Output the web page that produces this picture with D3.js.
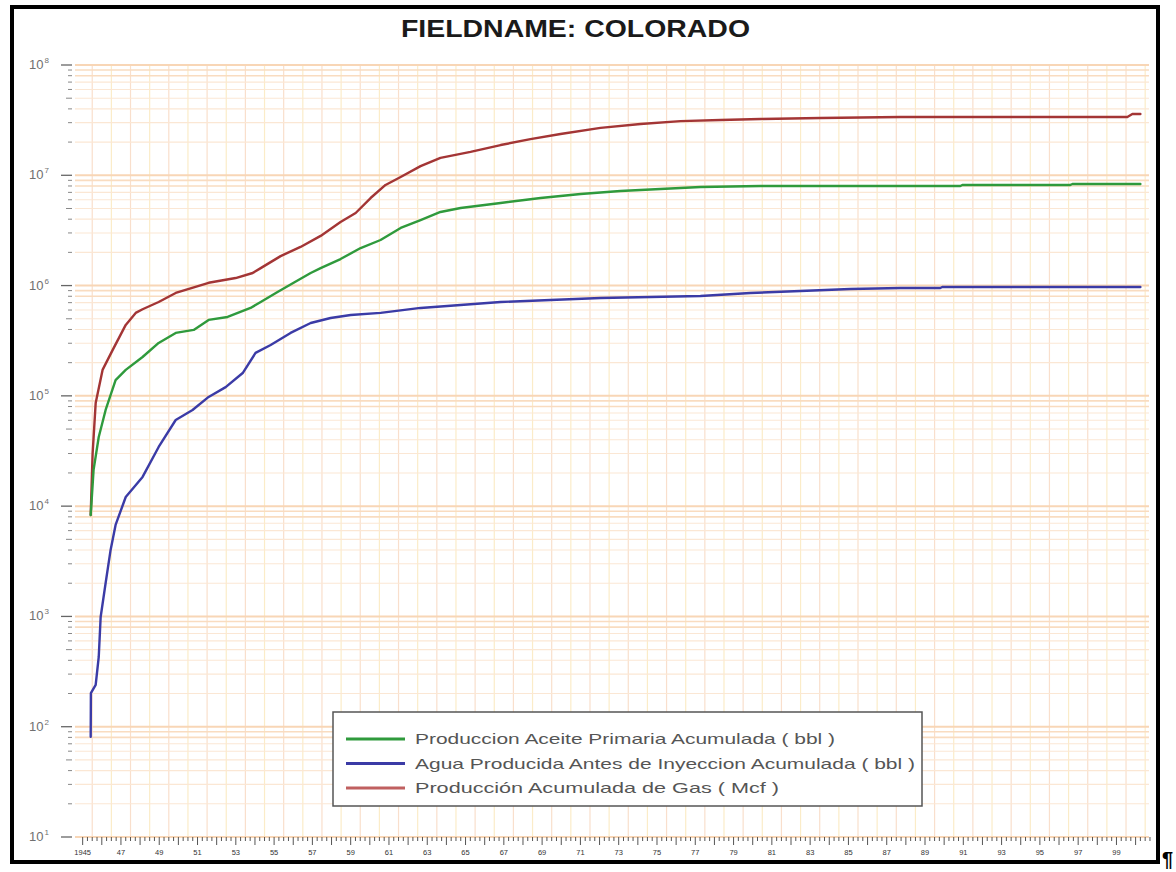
<!DOCTYPE html>
<html>
<head>
<meta charset="utf-8">
<script src="https://cdn.jsdelivr.net/npm/d3@7"></script>
<style>
  html, body { margin: 0; padding: 0; background: #fff; }
  svg { display: block; font-family: "Liberation Sans", Arial, sans-serif; }
</style>
</head>
<body>
<svg id="chart" width="1176" height="872"></svg>
<script>
// ---------------- DATA ----------------
const chartTitle = "FIELDNAME: COLORADO";
const seriesNames = [
  "Produccion Aceite Primaria Acumulada ( bbl )",
  "Agua Producida Antes de Inyeccion Acumulada ( bbl )",
  "Producción Acumulada de Gas ( Mcf )"
];
const oilYears = [1945.42,1945.57,1945.84,1946.20,1946.72,1947.25,1948.13,1948.97,1949.86,1950.80,1951.58,1952.57,1953.77,1954.30,1955.18,1956.02,1956.91,1957.43,1958.47,1959.52,1960.56,1961.61,1962.65,1963.69,1964.74,1966.83,1968.92,1971.01,1973.09,1975.18,1977.27,1980.41,1990.85,1990.95,1996.59,1996.70,2000.25];
const oilValues = [8.3e3,2.13e4,4.24e4,7.45e4,1.39e5,1.72e5,2.25e5,3.02e5,3.72e5,3.96e5,4.88e5,5.19e5,6.27e5,7.10e5,8.74e5,1.06e6,1.30e6,1.44e6,1.74e6,2.19e6,2.59e6,3.33e6,3.93e6,4.65e6,5.05e6,5.61e6,6.22e6,6.77e6,7.21e6,7.51e6,7.83e6,8.0e6,8.0e6,8.17e6,8.17e6,8.34e6,8.34e6];
const waterYears = [1945.42,1945.43,1945.68,1945.84,1945.94,1946.20,1946.46,1946.72,1947.25,1948.13,1948.97,1949.86,1950.74,1951.58,1952.47,1953.36,1954.03,1954.82,1955.86,1956.91,1957.95,1959.00,1960.56,1962.65,1964.74,1966.83,1969.44,1972.05,1974.66,1977.27,1979.88,1982.49,1985.10,1987.72,1989.80,1989.90,2000.25];
const waterValues = [81,202,239,429,989,2010,4010,6760,1.21e4,1.84e4,3.44e4,6.04e4,7.45e4,9.78e4,1.20e5,1.61e5,2.45e5,2.89e5,3.72e5,4.58e5,5.08e5,5.41e5,5.65e5,6.27e5,6.67e5,7.10e5,7.40e5,7.72e5,7.88e5,8.05e5,8.57e5,8.93e5,9.31e5,9.51e5,9.51e5,9.71e5,9.71e5];
const gasYears = [1945.42,1945.52,1945.68,1946.04,1946.57,1947.25,1947.77,1948.13,1948.97,1949.86,1951.58,1952.99,1953.88,1954.30,1955.34,1956.38,1957.43,1958.47,1959.26,1960.04,1960.82,1961.61,1962.65,1963.69,1965.26,1966.83,1968.39,1969.96,1972.05,1974.14,1976.23,1978.32,1980.41,1983.54,1987.72,1992.94,1999.57,1999.83,2000.25];
const gasValues = [8.3e3,3.0e4,8.6e4,1.72e5,2.61e5,4.4e5,5.65e5,6.1e5,7.1e5,8.57e5,1.06e6,1.17e6,1.30e6,1.44e6,1.85e6,2.24e6,2.82e6,3.77e6,4.55e6,6.22e6,8.17e6,9.66e6,1.21e7,1.44e7,1.63e7,1.88e7,2.13e7,2.37e7,2.69e7,2.92e7,3.10e7,3.17e7,3.24e7,3.31e7,3.38e7,3.38e7,3.38e7,3.60e7,3.60e7];
const xTickYears = [1945,1947,1949,1951,1953,1955,1957,1959,1961,1963,1965,1967,1969,1971,1973,1975,1977,1979,1981,1983,1985,1987,1989,1991,1993,1995,1997,1999];
const xTickLabels = ["1945","47","49","51","53","55","57","59","61","63","65","67","69","71","73","75","77","79","81","83","85","87","89","91","93","95","97","99"];
const yDecadeExponents = [1,2,3,4,5,6,7,8];

// ---------------- LAYOUT ----------------
const svg = d3.select("#chart");
const plot = { left: 75, right: 1149, top: 65, bottom: 837 };
const x = d3.scaleLinear().domain([1944.6, 2000.7]).range([plot.left, plot.right]);
const y = d3.scaleLog().domain([10, 1e8]).range([plot.bottom, plot.top]);

// outer frame
svg.append("rect").attr("x", 12).attr("y", 7).attr("width", 1146).attr("height", 855)
  .attr("fill", "#fff").attr("stroke", "#000").attr("stroke-width", 4);

// title
svg.append("text").attr("x", 575.5).attr("y", 37).attr("text-anchor", "middle")
  .attr("font-size", 24).attr("font-weight", "bold").attr("fill", "#1a1a1a")
  .attr("textLength", 349).attr("lengthAdjust", "spacingAndGlyphs")
  .text(chartTitle);

// ---------------- GRID ----------------
const grid = svg.append("g");
const yearLines = d3.range(1945, 2001).map(v => v + 0.5);
grid.selectAll("line.v").data(yearLines).join("line")
  .attr("x1", d => x(d)).attr("x2", d => x(d))
  .attr("y1", plot.top).attr("y2", plot.bottom)
  .attr("stroke", (d, i) => i % 2 ? "#fbecc8" : "#f9dfcc")
  .attr("stroke-width", 1.2);
const mantissa = d => Math.round(d / Math.pow(10, Math.floor(Math.log10(d) + 1e-9)));
const minorVals = [];
for (let e = 1; e < 8; e++) for (let m = 2; m <= 9; m++) minorVals.push(m * Math.pow(10, e));
grid.selectAll("line.h").data(minorVals).join("line")
  .attr("x1", plot.left).attr("x2", plot.right)
  .attr("y1", d => y(d)).attr("y2", d => y(d))
  .attr("stroke", d => mantissa(d) >= 8 ? "#f9dcc0" : "#fbe7d4")
  .attr("stroke-width", d => mantissa(d) >= 8 ? 1.6 : 1.1);
const decVals = yDecadeExponents.map(e => Math.pow(10, e));
grid.selectAll("line.d").data(decVals).join("line")
  .attr("x1", plot.left).attr("x2", plot.right)
  .attr("y1", d => y(d)).attr("y2", d => y(d))
  .attr("stroke", "#f8d6b6").attr("stroke-width", 2);

// ---------------- Y AXIS ----------------
const yAxisG = svg.append("g");
yAxisG.selectAll("line.maj").data(decVals).join("line")
  .attr("x1", 61).attr("x2", 72).attr("y1", d => y(d)).attr("y2", d => y(d))
  .attr("stroke", "#666").attr("stroke-width", 1.3);
yAxisG.selectAll("line.min").data(minorVals).join("line")
  .attr("x1", d => mantissa(d) === 5 ? 66 : 68)
  .attr("x2", 72).attr("y1", d => y(d)).attr("y2", d => y(d))
  .attr("stroke", "#888").attr("stroke-width", 1);
const yLab = yAxisG.selectAll("text.yl").data(yDecadeExponents).join("text")
  .attr("x", 49).attr("y", e => y(Math.pow(10, e)) + 4)
  .attr("text-anchor", "end").attr("font-size", 13).attr("fill", "#707070");
yLab.append("tspan").text("10");
yLab.append("tspan").attr("font-size", 8).attr("dy", -6).attr("dx", 1).text(e => e);

// ---------------- X AXIS ----------------
const xAxisG = svg.append("g");
const quarterTicks = d3.range(1945, 2000.76, 0.25);
xAxisG.selectAll("line.xt").data(quarterTicks).join("line")
  .attr("x1", d => x(d)).attr("x2", d => x(d))
  .attr("y1", plot.bottom).attr("y2", d => Math.abs(d - Math.round(d)) < 1e-6 ? plot.bottom + 8 : plot.bottom + 4)
  .attr("stroke", "#555").attr("stroke-width", 1);
xAxisG.selectAll("text.xl").data(xTickYears).join("text")
  .attr("x", d => x(d)).attr("y", 855)
  .attr("text-anchor", "middle").attr("font-size", 7.5).attr("fill", "#333")
  .text((d, i) => xTickLabels[i]);

// ---------------- LINES ----------------
const line = d3.line().x(d => x(d[0])).y(d => y(d[1]));
function pairs(xs, vs) { return d3.range(Math.min(xs.length, vs.length)).map(i => [xs[i], vs[i]]); }
const series = [
  { name: seriesNames[2], data: pairs(gasYears, gasValues), color: "#a33535" },
  { name: seriesNames[0], data: pairs(oilYears, oilValues), color: "#2f9a3c" },
  { name: seriesNames[1], data: pairs(waterYears, waterValues), color: "#3b3ba6" }
];
svg.append("g").selectAll("path").data(series).join("path")
  .attr("d", d => line(d.data)).attr("fill", "none")
  .attr("stroke", d => d.color).attr("stroke-width", 2.4)
  .attr("stroke-linejoin", "round").attr("stroke-linecap", "round");

// ---------------- LEGEND ----------------
const legend = svg.append("g");
legend.append("rect").attr("x", 333).attr("y", 712).attr("width", 589).attr("height", 94)
  .attr("fill", "#fff").attr("stroke", "#555").attr("stroke-width", 1.5);
const legendItems = [
  { name: seriesNames[0], color: "#2f9a3c", w: 420 },
  { name: seriesNames[1], color: "#3b3ba6", w: 500 },
  { name: seriesNames[2], color: "#c06060", w: 364 }
];
const li = legend.selectAll("g.li").data(legendItems).join("g")
  .attr("transform", (d, i) => `translate(0,${739 + i * 24.5})`);
li.append("line").attr("x1", 346).attr("x2", 405).attr("y1", 0).attr("y2", 0)
  .attr("stroke", d => d.color).attr("stroke-width", 3);
li.append("text").attr("x", 415).attr("y", 5).attr("font-size", 15).attr("fill", "#555")
  .attr("textLength", d => d.w).attr("lengthAdjust", "spacingAndGlyphs")
  .text(d => d.name);

// pilcrow mark at the right of the frame
svg.append("text").attr("x", 1162).attr("y", 866).attr("font-size", 20).attr("font-weight", "bold")
  .attr("fill", "#000").text("¶");
</script>
</body>
</html>
